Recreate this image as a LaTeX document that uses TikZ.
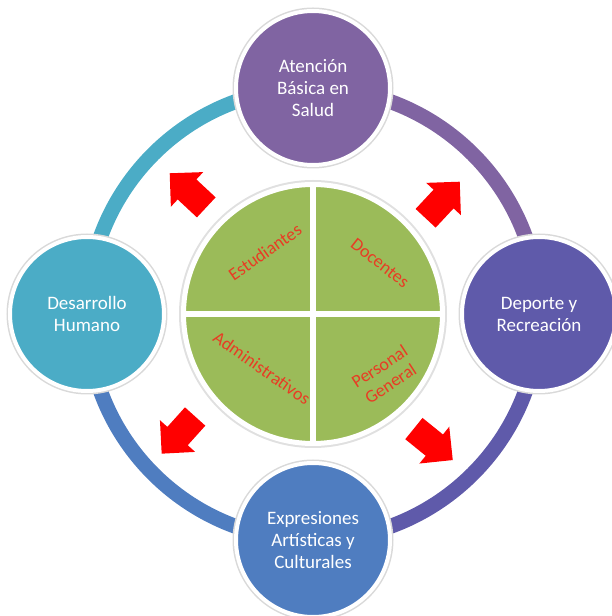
\documentclass[tikz,border=0pt]{standalone}
\usepackage{fontspec}
\setmainfont{Carlito}
\usetikzlibrary{shapes.arrows,backgrounds}
\definecolor{saludcol}{HTML}{8064A2}
\definecolor{deportecol}{HTML}{5F5AAA}
\definecolor{artecol}{HTML}{4F7DC0}
\definecolor{humanocol}{HTML}{4BACC6}
\definecolor{corecol}{HTML}{9BBB59}
\definecolor{grouptext}{HTML}{E83C24}
\begin{document}
\begin{tikzpicture}
        [
            x=1pt, y=1pt,
            area/.style = {circle, draw=white, line width=4pt, minimum size=154pt, inner sep=0pt, outer sep=0pt, text=white, align=center, font=\fontsize{19}{22}\selectfont, preaction={draw=black!15, line width=7pt}},
            ring/.style = {line width=15pt},
            group/.style = {text=grouptext, align=center, font=\fontsize{18}{20}\selectfont},
            push/.style = {single arrow, fill=red, inner xsep=0pt, inner ysep=13.5pt, minimum height=50pt, single arrow head extend=10pt},
        ]
        \useasboundingbox (0,0) rectangle (612,616);
        \coordinate (c) at (313,302);
        \node [area, fill=saludcol] (salud) at (313,528) {Atención\\Básica en\\Salud};
        \node [area, fill=deportecol] (deporte) at (539,302) {Deporte y\\Recreación};
        \node [area, fill=artecol] (arte) at (313,76) {Expresiones\\Artísticas y\\Culturales};
        \node [area, fill=humanocol] (humano) at (87,302) {Desarrollo\\Humano};
        \begin{scope}[on background layer]
            \draw[ring, saludcol] (salud.center) arc[start angle=90, end angle=0, radius=226];
            \draw[ring, deportecol] (deporte.center) arc[start angle=0, end angle=-90, radius=226];
            \draw[ring, artecol] (arte.center) arc[start angle=-90, end angle=-180, radius=226];
            \draw[ring, humanocol] (humano.center) arc[start angle=180, end angle=90, radius=226];
        \end{scope}
        \node [circle, fill=corecol, draw=white, line width=5pt, minimum size=259pt, preaction={draw=black!12, line width=9pt}] (core) at (c) {};
        \draw[white, line width=6pt] (core.north) -- (core.south);
        \draw[white, line width=6pt] (core.west) -- (core.east);
        \node [group, rotate=35] (estudiantes) at (265,364) {Estudiantes};
        \node [group, rotate=-38] (docentes) at (380,353) {Docentes};
        \node [group, rotate=-35] (admin) at (262,248) {Administrativos};
        \node [group, rotate=33] (personal) at (385,241) {Personal\\General};
        \node [push, rotate=137] (a1) at (193,421) {};
        \node [push, rotate=47] (a2) at (438,411) {};
        \node [push, rotate=228] (a3) at (183,186) {};
        \node [push, rotate=321] (a4) at (428,176) {};
    \end{tikzpicture}
\end{document}
